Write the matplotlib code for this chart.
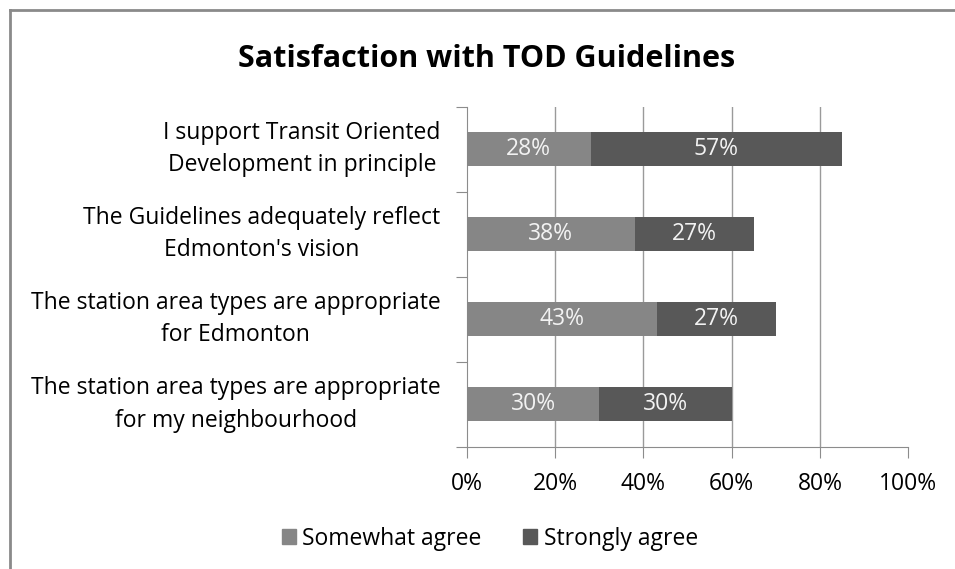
import matplotlib.pyplot as plt
from matplotlib.lines import Line2D
from matplotlib.patches import Patch

plt.rcParams['font.family'] = ['Open Sans', 'DejaVu Sans']

categories = [
    'I support Transit Oriented\nDevelopment in principle',
    "The Guidelines adequately reflect\nEdmonton's vision",
    'The station area types are appropriate\nfor Edmonton',
    'The station area types are appropriate\nfor my neighbourhood',
]
somewhat = [28, 38, 43, 30]
strongly = [57, 27, 27, 30]
series_names = ['Somewhat agree', 'Strongly agree']
xticks = [0, 20, 40, 60, 80, 100]

c_some = '#868686'
c_strong = '#585858'
fs = 16.5

fig = plt.figure(figsize=(9.55, 5.69), dpi=100)
ax = fig.add_axes([0.489, 0.2144, 0.462, 0.598])

ypos = list(range(len(categories)))[::-1]
ax.barh(ypos, somewhat, height=0.4, color=c_some, zorder=3)
ax.barh(ypos, strongly, left=somewhat, height=0.4, color=c_strong, zorder=3)

for y, s, t in zip(ypos, somewhat, strongly):
    ax.text(s / 2, y, f'{s}%', ha='center', va='center', color='#f2f2f2', fontsize=fs, zorder=4)
    ax.text(s + t / 2, y, f'{t}%', ha='center', va='center', color='#f2f2f2', fontsize=fs, zorder=4)

ax.set_xlim(0, 100)
ax.set_ylim(-0.5, 3.5)
ax.set_xticks(xticks)
ax.set_xticklabels([f'{v}%' for v in xticks], fontsize=fs)
for v in xticks[1:-1]:
    ax.axvline(v, color='#9a9a9a', linewidth=1, zorder=0)

# category labels centred between the boundary ticks
ax.set_yticks([-0.5, 0.5, 1.5, 2.5, 3.5])
ax.set_yticklabels([])
ax.tick_params(axis='y', length=8, color='#8c8c8c')
ax.tick_params(axis='x', length=8, color='#8c8c8c', pad=10)
for y, lab in zip(ypos, categories):
    ax.text(-0.060, y, lab, transform=ax.get_yaxis_transform(), ha='right', va='center',
            multialignment='center', fontsize=fs, linespacing=1.45)

for side in ['top', 'right']:
    ax.spines[side].set_visible(False)
for side in ['left', 'bottom']:
    ax.spines[side].set_color('#8c8c8c')

fig.text(0.509, 0.897, 'Satisfaction with TOD Guidelines', ha='center', va='center',
         fontsize=22, fontweight='bold')

handles = [Patch(color=c_some), Patch(color=c_strong)]
fig.legend(handles, series_names, loc='center', bbox_to_anchor=(0.513, 0.053), ncol=2,
           frameon=False, fontsize=fs, handlelength=0.6, handleheight=0.6,
           handletextpad=0.3, columnspacing=1.8)

# outer frame (top and left edges visible)
fig.add_artist(Line2D([10 / 955, 1], [1 - 10 / 569] * 2, transform=fig.transFigure, color='#8a8a8a', lw=2))
fig.add_artist(Line2D([10 / 955] * 2, [0, 1 - 10 / 569], transform=fig.transFigure, color='#8a8a8a', lw=2))

fig.savefig('out.png', dpi=100)
